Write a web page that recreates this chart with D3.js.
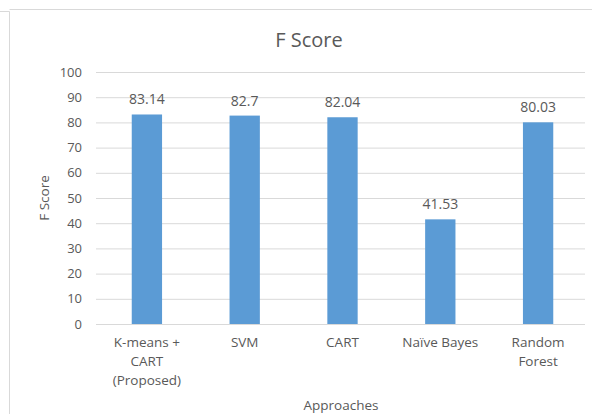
<!DOCTYPE html>
<html>
<head>
<meta charset="utf-8">
<script src="https://cdn.jsdelivr.net/npm/d3@7"></script>
<style>
  html, body { margin: 0; padding: 0; background: #fff; }
  svg { display: block; }
  text { font-family: "Open Sans", "DejaVu Sans", sans-serif; fill: #595959; }
</style>
</head>
<body>
<svg id="chart" width="592" height="414"></svg>
<script>
const categories = [["K-means +", "CART", "(Proposed)"], ["SVM"], ["CART"], ["Naïve Bayes"], ["Random", "Forest"]];
const fScores = [83.14, 82.7, 82.04, 41.53, 80.03];
const valueLabels = ["83.14", "82.7", "82.04", "41.53", "80.03"];
const yTicks = [0, 10, 20, 30, 40, 50, 60, 70, 80, 90, 100];

const svg = d3.select("#chart");
const plot = { left: 96, right: 585, top: 72, bottom: 324 };

// chart frame
svg.append("path")
  .attr("d", "M0,11.5H9.5V414M9.5,9.5H592")
  .attr("fill", "none").attr("stroke", "#d9d9d9").attr("stroke-width", 1);

const keys = categories.map((c, i) => i);
const x = d3.scaleBand().domain(keys).range([plot.left + 2, plot.right + 2]).paddingInner(0.69).paddingOuter(0.345);
const y = d3.scaleLinear().domain([0, 100]).range([plot.bottom, plot.top]);

// gridlines and y tick labels
const yAxis = d3.axisLeft(y).tickValues(yTicks).tickSize(-(plot.right - plot.left)).tickPadding(14);
const ga = svg.append("g").attr("transform", `translate(${plot.left},0)`).call(yAxis);
ga.select(".domain").remove();
ga.selectAll(".tick line").attr("stroke", "#d9d9d9").attr("stroke-width", 1);
ga.selectAll(".tick text").attr("font-size", 13).attr("fill", "#595959")
  .style("font-family", "'Open Sans', 'DejaVu Sans', sans-serif");

// bars
svg.append("g").selectAll("rect").data(fScores).join("rect")
  .attr("x", (d, i) => x(i))
  .attr("y", d => y(d))
  .attr("width", x.bandwidth())
  .attr("height", d => y(0) - y(d))
  .attr("fill", "#5b9bd5");

// value labels
svg.append("g").selectAll("text").data(fScores).join("text")
  .attr("x", (d, i) => x(i) + x.bandwidth() / 2)
  .attr("y", d => y(d) - 10)
  .attr("text-anchor", "middle")
  .attr("font-size", 14)
  .attr("fill", "#404040")
  .text((d, i) => valueLabels[i]);

// category labels
const cat = svg.append("g").selectAll("text").data(categories).join("text")
  .attr("x", (d, i) => x(i) + x.bandwidth() / 2)
  .attr("y", 347)
  .attr("text-anchor", "middle")
  .attr("font-size", 13.5);
cat.selectAll("tspan").data(d => d).join("tspan")
  .attr("x", function () { return d3.select(this.parentNode).attr("x"); })
  .attr("dy", (d, i) => i === 0 ? 0 : 19)
  .text(d => d);

// titles
svg.append("text").attr("x", 309).attr("y", 47).attr("text-anchor", "middle")
  .attr("font-size", 20).text("F Score");
svg.append("text").attr("transform", "translate(49,198) rotate(-90)").attr("text-anchor", "middle")
  .attr("font-size", 13.5).text("F Score");
svg.append("text").attr("x", 341).attr("y", 410).attr("text-anchor", "middle")
  .attr("font-size", 13.5).text("Approaches");
</script>
</body>
</html>
